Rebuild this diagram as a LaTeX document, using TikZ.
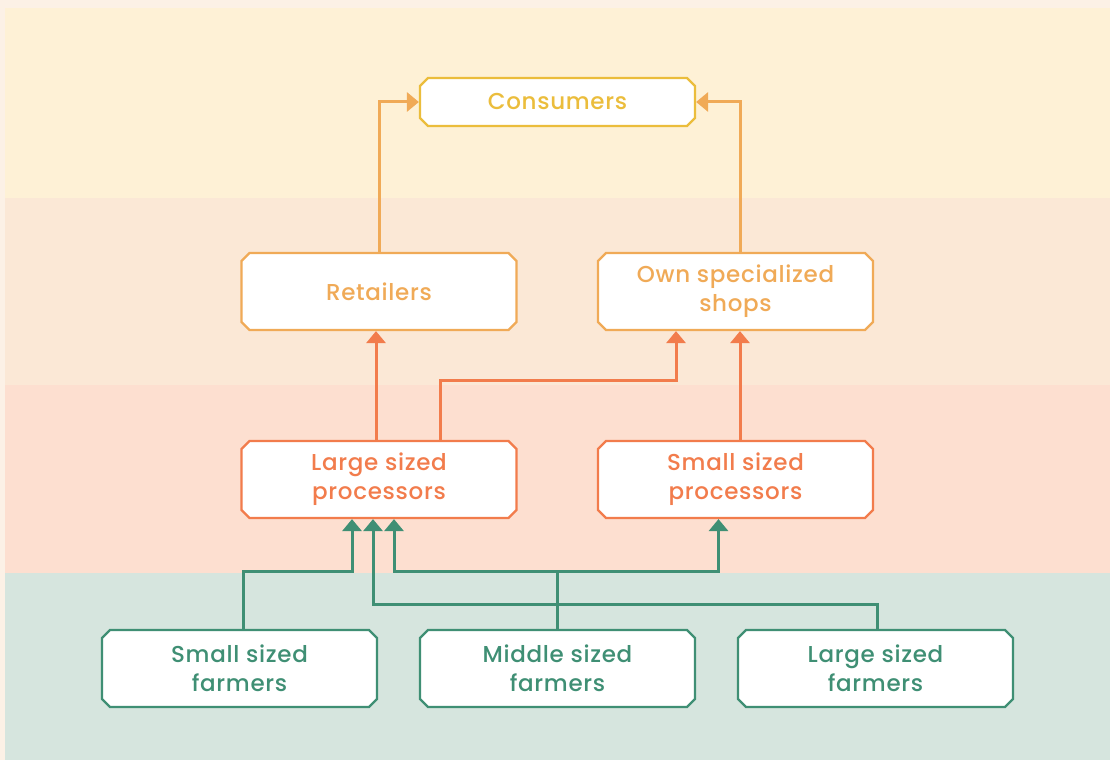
\documentclass[tikz,border=0pt]{standalone}
\usepackage{fontspec}
\setmainfont{Poppins}[UprightFont=* Medium, LetterSpace=3]
\usetikzlibrary{shapes.misc,arrows.meta}
\definecolor{bandtop}{HTML}{FCF1E6}
\definecolor{bandcons}{HTML}{FEF1D6}
\definecolor{bandretail}{HTML}{FBE8D6}
\definecolor{bandproc}{HTML}{FDDFD0}
\definecolor{bandfarm}{HTML}{D6E5DE}
\definecolor{conscol}{HTML}{EBBD3C}
\definecolor{retcol}{HTML}{F0AA57}
\definecolor{proccol}{HTML}{F27C4C}
\definecolor{farmcol}{HTML}{3F8F74}
\tikzset{
  chainbox/.style={draw=#1, text=#1, fill=white, line width=2.2pt,
    chamfered rectangle, chamfered rectangle xsep=4pt, chamfered rectangle ysep=4pt,
    minimum width=275pt, minimum height=77pt, inner sep=0pt, align=center,
    font=\fontsize{23}{29}\selectfont},
  flow/.style={draw=#1, line width=3pt, -{Triangle[width=19pt,length=12pt]}}
}
\begin{document}
\begin{tikzpicture}[x=1pt,y=1pt]
\useasboundingbox (0,0) rectangle (1110,760);
% bands
\fill[bandtop] (0,0) rectangle (1110,760);
\fill[bandcons] (5,562) rectangle (1110,752);
\fill[bandretail] (5,375) rectangle (1110,562);
\fill[bandproc] (5,187) rectangle (1110,375);
\fill[bandfarm] (5,0) rectangle (1110,187);
% boxes
\node[chainbox=conscol, minimum height=48pt] (cons) at (557.5,658) {Consumers};
\node[chainbox=retcol] (ret) at (379,468.5) {Retailers};
\node[chainbox=retcol] (shop) at (735.5,468.5) {Own specialized\\shops};
\node[chainbox=proccol] (lp) at (379,280.5) {Large sized\\processors};
\node[chainbox=proccol] (sp) at (735.5,280.5) {Small sized\\processors};
\node[chainbox=farmcol] (sf) at (239.5,91.5) {Small sized\\farmers};
\node[chainbox=farmcol] (mf) at (557.5,91.5) {Middle sized\\farmers};
\node[chainbox=farmcol] (lf) at (875.5,91.5) {Large sized\\farmers};
% retail to consumers
\draw[flow=retcol] (ret.north) |- (cons.west);
\draw[flow=retcol] ([xshift=4.5]shop.north) |- (cons.east);
% processors to retail
\draw[flow=proccol] ([xshift=-3]lp.north) -- ([xshift=-3]ret.south);
\draw[flow=proccol] ([xshift=61]lp.north) -- ++(0,59) -| ([xshift=-59.5]shop.south);
\draw[flow=proccol] ([xshift=4.5]sp.north) -- ([xshift=4.5]shop.south);
% farmers to processors
\draw[flow=farmcol] ([xshift=3.5]sf.north) -- ++(0,57) -| ([xshift=-27]lp.south);
\draw[flow=farmcol] ([xshift=1.5]lf.north) -- ++(0,24) -| ([xshift=-6]lp.south);
\draw[flow=farmcol] (mf.north) -- ++(0,57) -| ([xshift=15]lp.south);
\draw[flow=farmcol] (mf.north) -- ++(0,57) -| ([xshift=-17]sp.south);
\end{tikzpicture}
\end{document}
